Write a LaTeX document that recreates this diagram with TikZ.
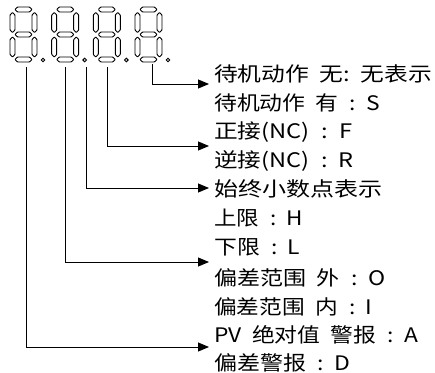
\documentclass[tikz,border=0pt]{standalone}
\usepackage{fontspec}
\usepackage{graphicx}
\newfontfamily\cjk{Noto Sans CJK SC}
\usetikzlibrary{arrows.meta}

\newcommand\wsp{\hspace{0.45em}}
\newcommand\colsep{\hspace{0.5em}:\hspace{0.45em}}
% Zeile auf feste Breite bringen, Hoehe bleibt
\newcommand\linew[2]{\resizebox{#1pt}{\height}{#2}}

\tikzset{
  seg/.style={draw, line width=0.95pt, fill=white, rounded corners=0.6pt},
  lbl/.style={anchor=west, inner sep=0pt, font=\cjk\fontsize{20}{24}\selectfont},
  lead/.style={line width=0.9pt, -{Triangle[length=11pt,width=9pt]}}
}

\begin{document}
\begin{tikzpicture}[x=1pt,y=-1pt]
\useasboundingbox (0,0) rectangle (435,372);

% Anzeige: vier Ziffern mit Dezimalpunkt
\foreach \dx in {0,41.7,83.3,125} {
\begin{scope}[xshift=\dx pt]
  % waagrechte Segmente
  \foreach \cy in {9.5,34.5,59.5}
    \draw[seg] (10,\cy) ++(5,0) -- ++(2.5,-2.5) -- ++(12,0) -- ++(2.5,2.5)
      -- ++(-2.5,2.5) -- ++(-12,0) -- cycle;
  % senkrechte Segmente
  \foreach \cx/\cy in {12.5/12.5, 34.5/12.5, 12.5/37, 34.5/37}
    \draw[seg] (\cx,\cy) -- ++(2.5,2.5) -- ++(0,15) -- ++(-2.5,2.5)
      -- ++(-2.5,-2.5) -- ++(0,-15) -- cycle;
  % Punkt
  \draw[seg] (43,60) circle (1.8);
\end{scope}
}

% Texte
\node[lbl] (l1)  at (214,74)  {\linew{218}{待机动作\wsp 无:\wsp 无表示}};
\node[lbl] (l2)  at (214,103) {\linew{166}{待机动作\wsp 有\colsep S}};
\node[lbl] (l3)  at (214,132) {\linew{138}{正接(NC)\colsep F}};
\node[lbl] (l4)  at (214,161) {\linew{139}{逆接(NC)\colsep R}};
\node[lbl] (l5)  at (214,189) {\linew{168}{始终小数点表示}};
\node[lbl] (l6)  at (214,218) {\linew{89}{上限\colsep H}};
\node[lbl] (l7)  at (214,247) {\linew{86}{下限\colsep L}};
\node[lbl] (l8)  at (214,278) {\linew{171}{偏差范围\wsp 外\colsep O}};
\node[lbl] (l9)  at (214,307) {\linew{158}{偏差范围\wsp 内\colsep I}};
\node[lbl] (l10) at (214,335) {\linew{204}{PV\wsp 绝对值\wsp 警报\colsep A}};
\node[lbl] (l11) at (214,363) {\linew{136}{偏差警报\colsep D}};

% Anschlusspunkte unter den Ziffern
\coordinate (p4) at (152,64);
\coordinate (p3) at (107,67);
\coordinate (pd) at (86,67);
\coordinate (p2) at (65,67);
\coordinate (p1) at (26,67);

% Pfeilspitzen
\coordinate (a4) at (209,84);
\coordinate (a3) at (209,146);
\coordinate (ad) at (209,188);
\coordinate (a2) at (209,262);
\coordinate (a1) at (209,347);

\draw[lead] (p4) |- (a4);
\draw[lead] (p3) |- (a3);
\draw[lead] (pd) |- (ad);
\draw[lead] (p2) |- (a2);
\draw[lead] (p1) |- (a1);

\end{tikzpicture}
\end{document}
